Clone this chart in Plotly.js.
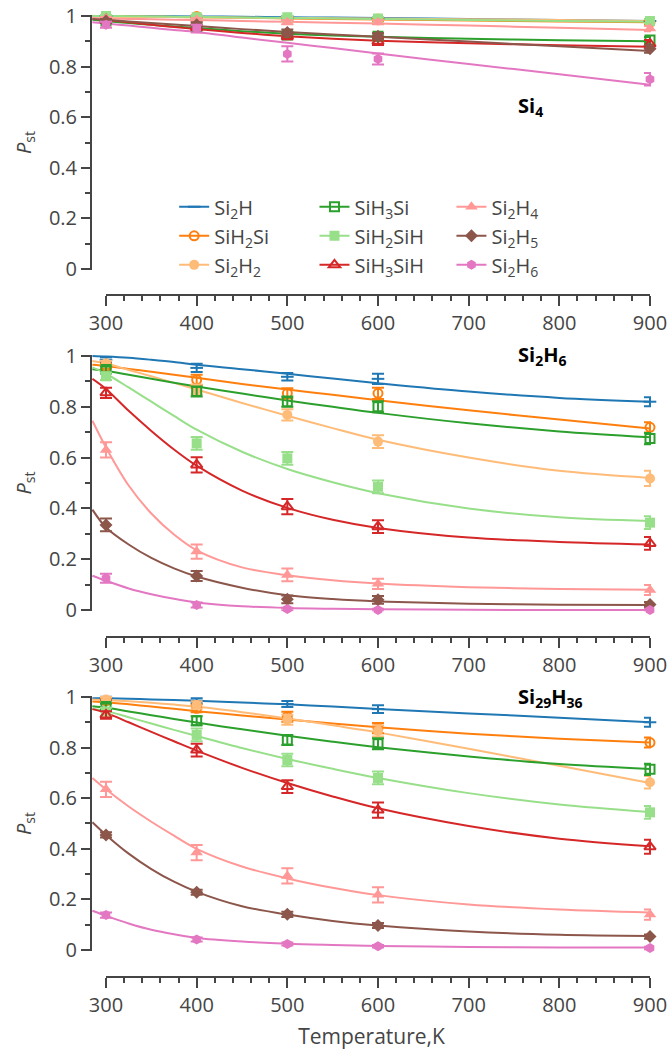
<!DOCTYPE html>
<html><head><meta charset="utf-8">
<script src="https://cdn.plot.ly/plotly-3.0.1.min.js"></script>
<style>html,body{margin:0;padding:0;background:#fff}#chart{width:670px;height:1051px}</style>
</head><body><div id="chart"></div>
<script>
// ---------------- data ----------------
const temps = [300, 400, 500, 600, 900];
const fitT = [285, 300, 325, 350, 375, 400, 450, 500, 550, 600, 700, 800, 900];
const species = ['Si<sub>2</sub>H', 'SiH<sub>2</sub>Si', 'Si<sub>2</sub>H<sub>2</sub>', 'SiH<sub>3</sub>Si',
  'SiH<sub>2</sub>SiH', 'SiH<sub>3</sub>SiH', 'Si<sub>2</sub>H<sub>4</sub>', 'Si<sub>2</sub>H<sub>5</sub>', 'Si<sub>2</sub>H<sub>6</sub>'];
const panelTitles = ['<b>Si<sub>4</sub></b>', '<b>Si<sub>2</sub>H<sub>6</sub></b>', '<b>Si<sub>29</sub>H<sub>36</sub></b>'];

// Si4 panel
const si4Values = [
  [1.0, 0.998, 0.995, 0.99, 0.98],
  [0.998, 0.998, 0.99, 0.985, 0.975],
  [0.995, 0.995, 0.99, 0.99, 0.98],
  [0.98, 0.955, 0.925, 0.92, 0.905],
  [1.0, 0.995, 0.995, 0.99, 0.98],
  [0.985, 0.955, 0.92, 0.90, 0.89],
  [0.99, 0.985, 0.975, 0.975, 0.95],
  [0.98, 0.965, 0.935, 0.92, 0.87],
  [0.965, 0.95, 0.85, 0.83, 0.75]
];
const si4Errors = [
  [0.005, 0.005, 0.005, 0.005, 0.008],
  [0.005, 0.005, 0.006, 0.006, 0.008],
  [0.005, 0.005, 0.006, 0.006, 0.008],
  [0.008, 0.01, 0.012, 0.012, 0.012],
  [0.005, 0.005, 0.006, 0.006, 0.008],
  [0.008, 0.01, 0.012, 0.015, 0.015],
  [0.006, 0.006, 0.008, 0.008, 0.01],
  [0.008, 0.01, 0.012, 0.012, 0.015],
  [0.012, 0.015, 0.03, 0.022, 0.025]
];
const si4Fits = [
  [1.0, 1.0, 0.9995, 0.999, 0.9985, 0.998, 0.997, 0.995, 0.9935, 0.992, 0.988, 0.984, 0.98],
  [1.0, 0.999, 0.998, 0.997, 0.996, 0.995, 0.993, 0.99, 0.988, 0.986, 0.982, 0.978, 0.975],
  [0.998, 0.997, 0.9965, 0.996, 0.9955, 0.995, 0.993, 0.992, 0.991, 0.99, 0.987, 0.984, 0.98],
  [0.985, 0.98, 0.972, 0.965, 0.958, 0.952, 0.94, 0.93, 0.923, 0.918, 0.91, 0.904, 0.90],
  [1.0, 1.0, 0.999, 0.998, 0.997, 0.996, 0.994, 0.992, 0.99, 0.988, 0.984, 0.98, 0.977],
  [0.99, 0.985, 0.975, 0.965, 0.956, 0.948, 0.933, 0.92, 0.91, 0.902, 0.892, 0.884, 0.878],
  [0.992, 0.99, 0.9885, 0.987, 0.9855, 0.984, 0.98, 0.977, 0.9735, 0.97, 0.962, 0.953, 0.945],
  [0.988, 0.985, 0.978, 0.972, 0.966, 0.96, 0.948, 0.937, 0.927, 0.918, 0.899, 0.88, 0.862],
  [0.975, 0.97, 0.962, 0.953, 0.945, 0.937, 0.915, 0.894, 0.873, 0.852, 0.81, 0.77, 0.728]
];

// Si2H6 panel
const si2h6Values = [
  [0.985, 0.953, 0.918, 0.91, 0.82],
  [0.96, 0.906, 0.853, 0.853, 0.719],
  [0.971, 0.868, 0.768, 0.663, 0.518],
  [0.947, 0.86, 0.82, 0.80, 0.675],
  [0.92, 0.656, 0.597, 0.485, 0.344],
  [0.855, 0.571, 0.407, 0.328, 0.262],
  [0.63, 0.23, 0.138, 0.103, 0.079],
  [0.335, 0.134, 0.042, 0.04, 0.022],
  [0.125, 0.02, 0.004, 0.0, 0.0]
];
const si2h6Errors = [
  [0.01, 0.016, 0.015, 0.02, 0.018],
  [0.01, 0.02, 0.02, 0.022, 0.02],
  [0.01, 0.02, 0.022, 0.025, 0.03],
  [0.012, 0.02, 0.02, 0.022, 0.022],
  [0.015, 0.025, 0.025, 0.025, 0.025],
  [0.02, 0.03, 0.03, 0.025, 0.025],
  [0.03, 0.028, 0.025, 0.02, 0.02],
  [0.025, 0.02, 0.015, 0.015, 0.01],
  [0.018, 0.01, 0.005, 0.005, 0.005]
];
const si2h6Fits = [
  [1.0, 0.998, 0.993, 0.985, 0.976, 0.965, 0.948, 0.93, 0.911, 0.893, 0.86, 0.835, 0.82],
  [0.965, 0.96, 0.949, 0.938, 0.926, 0.914, 0.89, 0.868, 0.847, 0.826, 0.786, 0.75, 0.715],
  [0.98, 0.97, 0.945, 0.92, 0.894, 0.868, 0.815, 0.765, 0.716, 0.67, 0.60, 0.548, 0.52],
  [0.948, 0.942, 0.926, 0.91, 0.895, 0.88, 0.852, 0.825, 0.80, 0.776, 0.735, 0.703, 0.68],
  [0.955, 0.93, 0.876, 0.82, 0.764, 0.71, 0.623, 0.555, 0.503, 0.46, 0.40, 0.365, 0.35],
  [0.91, 0.87, 0.784, 0.705, 0.632, 0.568, 0.47, 0.402, 0.355, 0.323, 0.285, 0.268, 0.258],
  [0.745, 0.64, 0.49, 0.38, 0.297, 0.235, 0.168, 0.137, 0.117, 0.104, 0.09, 0.083, 0.08],
  [0.395, 0.325, 0.258, 0.205, 0.164, 0.132, 0.088, 0.058, 0.043, 0.034, 0.025, 0.021, 0.02],
  [0.135, 0.115, 0.085, 0.062, 0.044, 0.03, 0.015, 0.008, 0.005, 0.003, 0.001, 0.0, 0.0]
];

// Si29H36 panel
const si29h36Values = [
  [0.995, 0.985, 0.972, 0.952, 0.90],
  [0.985, 0.955, 0.922, 0.877, 0.82],
  [0.99, 0.968, 0.91, 0.866, 0.663],
  [0.962, 0.906, 0.83, 0.815, 0.714],
  [0.942, 0.85, 0.751, 0.68, 0.544],
  [0.929, 0.79, 0.646, 0.553, 0.408],
  [0.635, 0.385, 0.293, 0.218, 0.14],
  [0.455, 0.228, 0.141, 0.097, 0.053],
  [0.138, 0.042, 0.024, 0.015, 0.008]
];
const si29h36Errors = [
  [0.008, 0.01, 0.012, 0.015, 0.018],
  [0.01, 0.015, 0.02, 0.02, 0.02],
  [0.01, 0.015, 0.02, 0.022, 0.025],
  [0.012, 0.018, 0.02, 0.022, 0.022],
  [0.015, 0.025, 0.025, 0.025, 0.025],
  [0.015, 0.025, 0.025, 0.03, 0.028],
  [0.03, 0.03, 0.03, 0.03, 0.02],
  [0.01, 0.01, 0.01, 0.01, 0.008],
  [0.01, 0.008, 0.006, 0.005, 0.005]
];
const si29h36Fits = [
  [0.995, 0.995, 0.993, 0.99, 0.988, 0.985, 0.978, 0.971, 0.962, 0.952, 0.935, 0.918, 0.90],
  [0.982, 0.979, 0.971, 0.962, 0.953, 0.944, 0.927, 0.911, 0.895, 0.88, 0.855, 0.835, 0.82],
  [0.99, 0.988, 0.983, 0.977, 0.97, 0.962, 0.94, 0.915, 0.888, 0.86, 0.795, 0.728, 0.66],
  [0.963, 0.957, 0.943, 0.928, 0.913, 0.899, 0.872, 0.847, 0.823, 0.801, 0.765, 0.735, 0.715],
  [0.953, 0.944, 0.92, 0.895, 0.87, 0.846, 0.798, 0.755, 0.716, 0.68, 0.62, 0.575, 0.545],
  [0.952, 0.937, 0.90, 0.862, 0.825, 0.788, 0.72, 0.66, 0.607, 0.56, 0.49, 0.44, 0.41],
  [0.68, 0.635, 0.567, 0.507, 0.452, 0.40, 0.33, 0.283, 0.246, 0.217, 0.18, 0.16, 0.148],
  [0.505, 0.455, 0.381, 0.32, 0.27, 0.23, 0.173, 0.14, 0.115, 0.097, 0.073, 0.06, 0.055],
  [0.155, 0.135, 0.105, 0.08, 0.062, 0.048, 0.034, 0.025, 0.02, 0.016, 0.012, 0.01, 0.01]
];

// ---------------- styles ----------------
const colors = ['#1f77b4', '#ff7f0e', '#ffbb78', '#2ca02c', '#98df8a', '#d62728', '#ff9896', '#8c564b', '#e377c2'];
const symbols = ['line-ew-open', 'circle-open', 'circle', 'square-open', 'square', 'triangle-up-open', 'triangle-up', 'diamond', 'hexagon'];
const msizes = [9, 9, 10, 9, 10, 10, 11, 10, 10];
const FONT = 'Open Sans, DejaVu Sans, sans-serif';
const AX = '#454545';

const panelData = [
  [si4Values, si4Errors, si4Fits],
  [si2h6Values, si2h6Errors, si2h6Fits],
  [si29h36Values, si29h36Errors, si29h36Fits]
];
// geometry (paper fractions)
const yDomains = [[0.73385, 0.99927], [0.37975, 0.64621], [0.02669, 0.29211]];
const xPos = [0.7082, 0.35306, 0.0];
const titleY = [0.9044, 0.6449, 0.2905];

function markerFor(i) {
  const open = symbols[i].indexOf('open') >= 0;
  return {
    symbol: symbols[i], size: msizes[i], color: colors[i],
    line: {color: colors[i], width: open ? 2 : 0}
  };
}

const traces = [];
panelData.forEach((pd, p) => {
  const xa = p === 0 ? 'x' : 'x' + (p + 1);
  const ya = p === 0 ? 'y' : 'y' + (p + 1);
  const [vals, errs, fits] = pd;
  species.forEach((s, i) => {
    traces.push({
      type: 'scatter', mode: 'lines', x: fitT, y: fits[i], xaxis: xa, yaxis: ya,
      line: {color: colors[i], width: 2, shape: 'spline', smoothing: 0.9},
      showlegend: false, hoverinfo: 'skip'
    });
  });
  species.forEach((s, i) => {
    traces.push({
      type: 'scatter', mode: 'markers', x: temps, y: vals[i], xaxis: xa, yaxis: ya,
      marker: markerFor(i),
      error_y: {type: 'data', array: errs[i], visible: true, color: colors[i], thickness: 2, width: 6},
      cliponaxis: false, showlegend: false, name: s
    });
  });
});
// legend entries (three columns)
const legendNames = ['legend', 'legend', 'legend', 'legend2', 'legend2', 'legend2', 'legend3', 'legend3', 'legend3'];
species.forEach((s, i) => {
  traces.push({
    type: 'scatter', mode: 'lines+markers', x: [null], y: [null], xaxis: 'x', yaxis: 'y',
    name: s, legend: legendNames[i],
    line: {color: colors[i], width: 2}, marker: markerFor(i), showlegend: true
  });
});

const layout = {
  width: 670, height: 1051,
  margin: {l: 92, r: 19, t: 14, b: 74},
  paper_bgcolor: '#fff', plot_bgcolor: 'rgba(0,0,0,0)',
  font: {family: FONT, size: 20, color: AX},
  showlegend: true,
  shapes: [], annotations: []
};
const legendBase = {
  yanchor: 'top', xanchor: 'left', y: 0.82, bgcolor: 'rgba(0,0,0,0)',
  font: {family: FONT, size: 20, color: AX}, itemwidth: 30, tracegroupgap: 0
};
layout.legend = Object.assign({}, legendBase, {x: 0.147});
layout.legend2 = Object.assign({}, legendBase, {x: 0.398});
layout.legend3 = Object.assign({}, legendBase, {x: 0.643});

for (let p = 0; p < 3; p++) {
  const xk = p === 0 ? 'xaxis' : 'xaxis' + (p + 1);
  const yk = p === 0 ? 'yaxis' : 'yaxis' + (p + 1);
  const xa = p === 0 ? 'x' : 'x' + (p + 1);
  layout[xk] = {
    domain: [0, 1], range: [284.56, 901.1], anchor: 'free', position: xPos[p],
    showline: false, showgrid: false, zeroline: false,
    ticks: 'outside', ticklen: 10, tickwidth: 2, tickcolor: AX,
    tick0: 0, dtick: 100, tickfont: {family: FONT, size: 20, color: AX},
    minor: {ticks: 'outside', tick0: 0, dtick: 20, ticklen: 5, tickwidth: 2, tickcolor: AX, showgrid: false}
  };
  if (p === 2) {
    layout[xk].title = {text: 'Temperature,K', font: {family: FONT, size: 21, color: AX}, standoff: 12};
  }
  layout[yk] = {
    domain: yDomains[p], range: [-0.005, 1.005], anchor: xa,
    showline: true, linecolor: AX, linewidth: 2, showgrid: false, zeroline: false,
    ticks: 'outside', ticklen: 9, tickwidth: 2, tickcolor: AX,
    tick0: 0, dtick: 0.2, tickfont: {family: FONT, size: 20, color: AX},
    minor: {ticks: 'outside', tick0: 0, dtick: 0.1, ticklen: 5, tickwidth: 2, tickcolor: AX, showgrid: false},
    title: {text: '<i>P</i><sub>st</sub>', font: {family: FONT, size: 20, color: AX}, standoff: 12}
  };
  layout.shapes.push({
    type: 'line', xref: xa, yref: 'paper',
    x0: temps[0], x1: temps[temps.length - 1], y0: xPos[p], y1: xPos[p],
    line: {color: AX, width: 2}
  });
  layout.annotations.push({
    text: panelTitles[p], xref: 'paper', yref: 'paper', x: 0.758, y: titleY[p],
    xanchor: 'left', yanchor: 'middle', showarrow: false,
    font: {family: FONT, size: 20, color: '#000'}
  });
}

Plotly.newPlot('chart', traces, layout, {displayModeBar: false, staticPlot: true});
</script>
</body></html>
